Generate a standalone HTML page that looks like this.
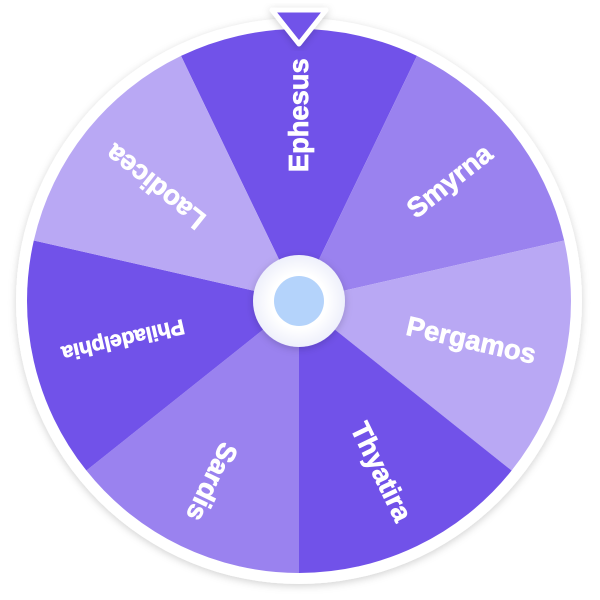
<!DOCTYPE html>
<html><head><style>html,body{margin:0;padding:0;background:#fff;width:600px;height:600px;overflow:hidden}</style></head>
<body>
<svg width="600" height="600" viewBox="0 0 600 600" xmlns="http://www.w3.org/2000/svg">
<defs>
<filter id="sh" x="-20%" y="-20%" width="140%" height="140%"><feDropShadow dx="0" dy="2" stdDeviation="4" flood-color="#000" flood-opacity="0.18"/></filter>
<radialGradient id="hub"><stop offset="0.6" stop-color="#fff"/><stop offset="1" stop-color="#eef0fb"/></radialGradient>
</defs>
<circle cx="299" cy="301" r="283" fill="#fff" filter="url(#sh)"/>
<g transform="translate(299,301) scale(1.011)">
<path d="M0 0 L-116.7 -242.4 A269 269 0 0 1 116.7 -242.4 Z" fill="#7152e9"/>
<path d="M0 0 L116.7 -242.4 A269 269 0 0 1 262.3 -59.9 Z" fill="#9a82ef"/>
<path d="M0 0 L262.3 -59.9 A269 269 0 0 1 210.3 167.7 Z" fill="#b9a8f4"/>
<path d="M0 0 L210.3 167.7 A269 269 0 0 1 0 269 Z" fill="#7152e9"/>
<path d="M0 0 L0 269 A269 269 0 0 1 -210.3 167.7 Z" fill="#9a82ef"/>
<path d="M0 0 L-210.3 167.7 A269 269 0 0 1 -262.3 -59.9 Z" fill="#7152e9"/>
<path d="M0 0 L-262.3 -59.9 A269 269 0 0 1 -116.7 -242.4 Z" fill="#b9a8f4"/>
<g font-family="Liberation Sans, sans-serif" font-weight="bold" font-size="27" fill="#fff" stroke="#fff" stroke-width="0.7" text-anchor="end">
<text transform="rotate(-90)" x="240" y="9">Ephesus</text>
<text transform="rotate(-38.571)" x="240" y="9">Smyrna</text>
<text transform="rotate(12.857)" x="240" y="9">Pergamos</text>
<text transform="rotate(64.286)" x="240" y="9">Thyatira</text>
<text transform="rotate(115.714)" x="240" y="9">Sardis</text>
<text transform="rotate(167.143)" x="240" y="8" font-size="21">Philadelphia</text>
<text transform="rotate(218.571)" x="240" y="9">Laodicea</text>
</g>
</g>
<circle cx="299" cy="301" r="46" fill="url(#hub)" filter="url(#sh)"/>
<circle cx="299" cy="301" r="25" fill="#b4d3fb"/>
<path d="M272 10 L326 10 L299 44 Z" fill="#7152e9" stroke="#fff" stroke-width="5" stroke-linejoin="round" filter="url(#sh)"/>
</svg>
</body></html>
